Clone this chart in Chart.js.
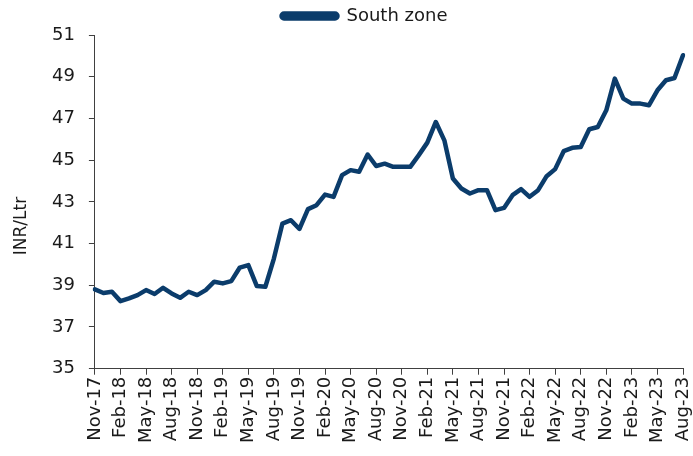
<!DOCTYPE html>
<html>
<head>
<meta charset="utf-8">
<script src="https://cdn.jsdelivr.net/npm/chart.js@4"></script>
<style>
html,body{margin:0;padding:0;background:#fff;}
#wrap{width:693px;height:456px;}
</style>
</head>
<body>
<div id="wrap"><canvas id="c" width="693" height="456"></canvas></div>
<script>
const months = [
"Nov-17","Dec-17","Jan-18","Feb-18","Mar-18","Apr-18","May-18","Jun-18","Jul-18","Aug-18","Sep-18","Oct-18",
"Nov-18","Dec-18","Jan-19","Feb-19","Mar-19","Apr-19","May-19","Jun-19","Jul-19","Aug-19","Sep-19","Oct-19",
"Nov-19","Dec-19","Jan-20","Feb-20","Mar-20","Apr-20","May-20","Jun-20","Jul-20","Aug-20","Sep-20","Oct-20",
"Nov-20","Dec-20","Jan-21","Feb-21","Mar-21","Apr-21","May-21","Jun-21","Jul-21","Aug-21","Sep-21","Oct-21",
"Nov-21","Dec-21","Jan-22","Feb-22","Mar-22","Apr-22","May-22","Jun-22","Jul-22","Aug-22","Sep-22","Oct-22",
"Nov-22","Dec-22","Jan-23","Feb-23","Mar-23","Apr-23","May-23","Jun-23","Jul-23","Aug-23"
];
const southZone = [
38.80,38.63,38.69,38.24,38.37,38.53,38.77,38.58,38.88,38.61,38.40,38.69,
38.53,38.77,39.17,39.09,39.20,39.85,39.97,38.96,38.93,40.28,41.96,42.12,
41.70,42.65,42.84,43.35,43.24,44.28,44.52,44.44,45.27,44.72,44.83,44.68,
44.68,44.68,45.24,45.84,46.83,45.95,44.12,43.64,43.40,43.56,43.56,42.60,
42.71,43.32,43.61,43.24,43.56,44.23,44.57,45.43,45.59,45.63,46.48,46.59,
47.39,48.91,47.95,47.71,47.71,47.63,48.35,48.83,48.94,50.03
];
const seriesName = "South zone";
const yTitle = "INR/Ltr";
const yMin = 35, yMax = 51, yStep = 2;
const labelEvery = 3;

const FONT = "'DejaVu Sans', sans-serif";
const NAVY = "#0b3c6b";
const AXIS = "#404040";

const yTitlePlugin = {
  id: 'yTitle',
  afterDraw(chart) {
    const ctx = chart.ctx;
    ctx.save();
    ctx.translate(22, 226);
    ctx.rotate(-Math.PI/2);
    ctx.font = "17px " + FONT;
    ctx.fillStyle = "#1a1a1a";
    ctx.textAlign = "center";
    ctx.textBaseline = "middle";
    ctx.fillText(yTitle, 0, 0);
    ctx.restore();
  }
};

new Chart(document.getElementById('c'), {
  type: 'line',
  data: {
    labels: months,
    datasets: [{
      label: seriesName,
      data: southZone,
      borderColor: NAVY,
      backgroundColor: NAVY,
      borderWidth: 4.5,
      pointRadius: 0,
      tension: 0,
      borderJoinStyle: 'round',
      borderCapStyle: 'round'
    }]
  },
  options: {
    responsive: false,
    animation: false,
    devicePixelRatio: 1,
    layout: { padding: { left: 38, right: 2, top: 0, bottom: 11 } },
    plugins: {
      legend: {
        display: true,
        position: 'top',
        labels: {
          font: { family: FONT, size: 18 },
          color: "#1a1a1a",
          boxWidth: 56,
          boxHeight: 5,
          useBorderRadius: true,
          borderRadius: 2.5,
          padding: 7
        }
      },
      tooltip: { enabled: false }
    },
    scales: {
      x: {
        type: 'category',
        offset: false,
        border: { display: true, color: AXIS, width: 1 },
        grid: { display: true, drawOnChartArea: false, drawTicks: true, tickLength: 6, color: AXIS },
        afterFit: function(scale) { scale.paddingRight = 10; scale.paddingLeft = 0; },
        ticks: {
          autoSkip: false,
          maxRotation: 90,
          minRotation: 90,
          padding: 2,
          font: { family: FONT, size: 18 },
          color: "#1a1a1a",
          callback: function(v, i) { return i % labelEvery === 0 ? months[i] : null; }
        }
      },
      y: {
        min: yMin,
        max: yMax,
        border: { display: true, color: AXIS, width: 1 },
        grid: { display: true, drawOnChartArea: false, drawTicks: true, tickLength: 6, color: AXIS },
        ticks: {
          stepSize: yStep,
          padding: 14,
          font: { family: FONT, size: 18 },
          color: "#1a1a1a"
        }
      }
    }
  },
  plugins: [yTitlePlugin]
});
</script>
</body>
</html>
